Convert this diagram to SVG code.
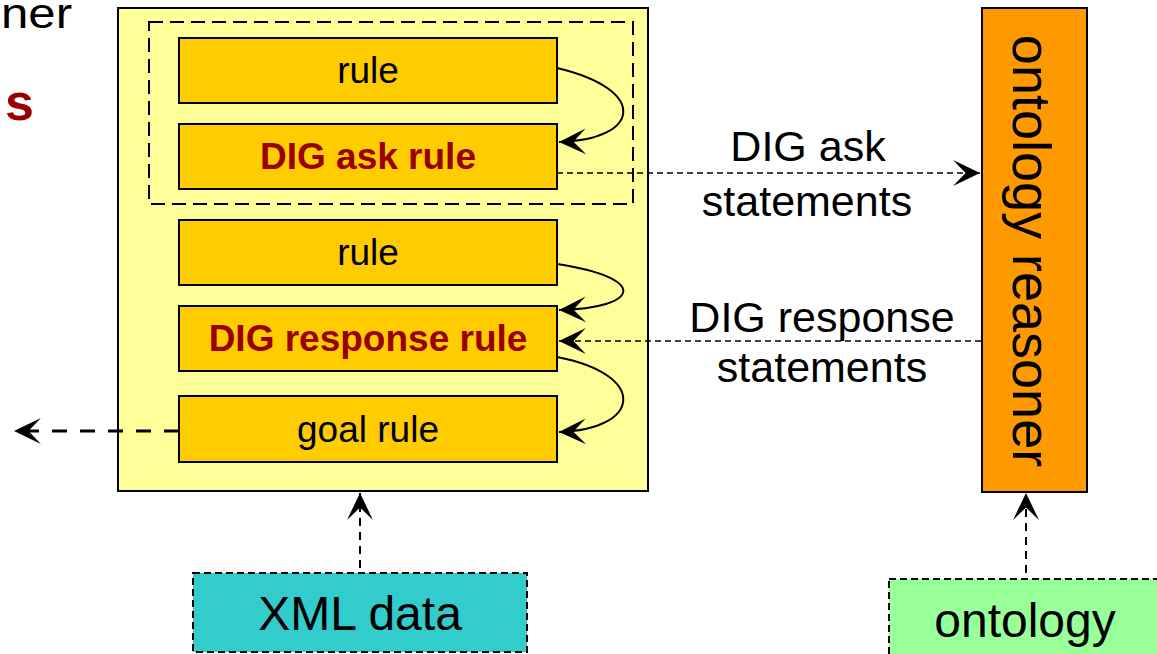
<svg xmlns="http://www.w3.org/2000/svg" width="1157" height="654" viewBox="0 0 1157 654">
<style>
text{font-family:"Liberation Sans",Arial,sans-serif;fill:#000}
.rb{fill:#FFCC00;stroke:#000;stroke-width:2}
.t36{font-size:37px;text-anchor:middle}
.red{font-weight:bold;fill:#990000}
.lbl{font-size:43px;text-anchor:middle}
.c{fill:none;stroke:#000}
</style>
<defs>
<marker id="ah" markerUnits="userSpaceOnUse" markerWidth="30" markerHeight="30" viewBox="-27 -14 29 28" refX="0" refY="0" orient="auto">
<path d="M0,0 L-26,-12.5 L-14,0 L-26,12.5 Z" fill="#000"/>
</marker>
</defs>
<rect width="1157" height="654" fill="#fff"/>
<g id="fragments">
<text x="1" y="28" style="font-size:43px" textLength="71" lengthAdjust="spacingAndGlyphs">ner</text>
<text x="34" y="120" class="red" style="font-size:52px" text-anchor="end">s</text>
</g>
<g id="rule-engine">
<rect x="118" y="8" width="530" height="483" fill="#FFFF99" stroke="#000" stroke-width="2"/>
<rect x="149" y="22" width="484" height="182" fill="none" stroke="#000" stroke-width="2" stroke-dasharray="14,7"/>
</g>
<g id="rule1"><rect class="rb" x="179" y="38" width="378" height="65"/><text class="t36" x="368" y="83">rule</text></g>
<g id="dig-ask-rule"><rect class="rb" x="179" y="124" width="378" height="65"/><text class="t36 red" x="368" y="169">DIG ask rule</text></g>
<g id="rule2"><rect class="rb" x="179" y="220" width="378" height="65"/><text class="t36" x="368" y="265">rule</text></g>
<g id="dig-response-rule"><rect class="rb" x="179" y="306" width="378" height="65"/><text class="t36 red" x="368" y="351">DIG response rule</text></g>
<g id="goal-rule"><rect class="rb" x="179" y="396" width="378" height="66"/><text class="t36" x="368" y="442">goal rule</text></g>
<g id="ontology-reasoner">
<rect x="982" y="8" width="105" height="484" fill="#FF9900" stroke="#000" stroke-width="2"/>
<text transform="translate(1013,251) rotate(90)" style="font-size:54px" text-anchor="middle">ontology reasoner</text>
</g>
<g id="xml-data">
<rect x="193" y="573" width="334" height="79" fill="#33CCCC" stroke="#000" stroke-width="2" stroke-dasharray="7,4"/>
<text x="360" y="630" style="font-size:48px" text-anchor="middle">XML data</text>
</g>
<g id="ontology">
<rect x="889" y="579" width="272" height="90" fill="#99FF99" stroke="#000" stroke-width="2" stroke-dasharray="7,4"/>
<text x="1025" y="637" style="font-size:48px" text-anchor="middle">ontology</text>
</g>
<g id="connectors">
<path class="c" stroke-width="2" d="M557,68 C650,90 640,140 559,142" marker-end="url(#ah)"/>
<path class="c" stroke-width="2" d="M557,264 C650,278 640,308 559,310" marker-end="url(#ah)"/>
<path class="c" stroke-width="2" d="M557,357 C650,375 640,430 559,432" marker-end="url(#ah)"/>
<path class="c" stroke-width="1.5" stroke-dasharray="6,4" d="M557,173 L980,173" marker-end="url(#ah)"/>
<path class="c" stroke-width="1.5" stroke-dasharray="6,4" d="M981,341 L559,341" marker-end="url(#ah)"/>
<path class="c" stroke-width="3" stroke-dasharray="15,13" d="M179,431 L14,431" marker-end="url(#ah)"/>
<path class="c" stroke-width="2" stroke-dasharray="8,6" d="M360,568 L360,493" marker-end="url(#ah)"/>
<path class="c" stroke-width="2" stroke-dasharray="8,6" d="M1026,573 L1026,493" marker-end="url(#ah)"/>
<text class="lbl" x="808" y="161">DIG ask</text>
<text class="lbl" x="807" y="216">statements</text>
<text class="lbl" x="822" y="332">DIG response</text>
<text class="lbl" x="822" y="382">statements</text>
</g>
</svg>
